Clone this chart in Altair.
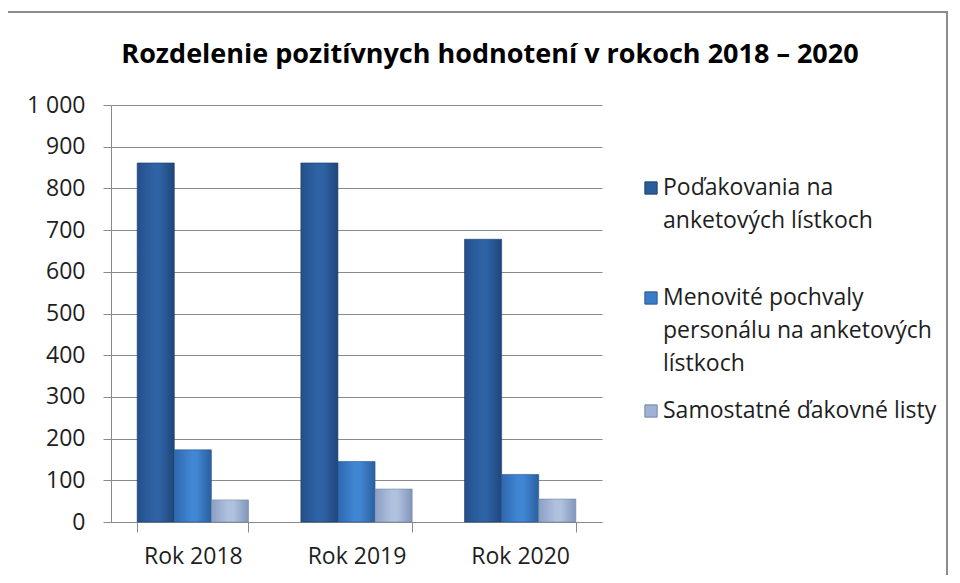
import altair as alt
import pandas as pd

# ---- data ----
years = ["Rok 2018", "Rok 2019", "Rok 2020"]
series = [
    "Poďakovania na anketových lístkoch",
    "Menovité pochvaly personálu na anketových lístkoch",
    "Samostatné ďakovné listy",
]
podakovania = [861, 861, 678]
menovite = [173, 145, 114]
listy = [53, 79, 55]
legend_lines = [
    ["Poďakovania na", "anketových lístkoch"],
    ["Menovité pochvaly", "personálu na anketových", "lístkoch"],
    ["Samostatné ďakovné listy"],
]
title_text = "Rozdelenie pozitívnych hodnotení v rokoch 2018 – 2020"

rows = []
for s, vals in zip(series, [podakovania, menovite, listy]):
    for y, v in zip(years, vals):
        rows.append({"year": y, "series": s, "value": v})
df = pd.DataFrame(rows)

# ---- styling / layout ----
W, H = 491, 417
FONT = "Open Sans"
TXT = "#1e1e1e"
GRID = "#8a8a8a"

def grad(edge, mid, edge2):
    return alt.Gradient(
        gradient="linear",
        stops=[
            alt.GradientStop(color=edge, offset=0),
            alt.GradientStop(color=mid, offset=0.45),
            alt.GradientStop(color=mid, offset=0.6),
            alt.GradientStop(color=edge2, offset=1),
        ],
        x1=0, x2=1, y1=0, y2=0,
    )

fills = [
    grad("#24508a", "#2f63a6", "#1f467a"),
    grad("#2e68b0", "#4186d3", "#2a5f9f"),
    grad("#8a9fc4", "#b0c1de", "#8196bb"),
]
solid = ["#2b5c9c", "#3a7cc8", "#9fb2d3"]
strokes = ["#1b3d69", "#24558f", "#6f84a8"]

x_enc = alt.X(
    "year:N", sort=years,
    scale=alt.Scale(paddingInner=0.32, paddingOuter=0.16),
    axis=alt.Axis(
        title=None, labelAngle=0, labelFont=FONT, labelFontSize=23,
        labelColor=TXT, tickBand="extent", tickSize=10, tickColor=GRID,
        domainColor=GRID, labelPadding=13, grid=False,
    ),
)
xo_enc = alt.XOffset(
    "series:N", sort=series,
    scale=alt.Scale(domain=series, paddingInner=0, paddingOuter=0),
)
y_enc = alt.Y(
    "value:Q",
    scale=alt.Scale(domain=[0, 1000], nice=False),
    axis=alt.Axis(
        title=None, values=list(range(0, 1001, 100)), format=",d",
        labelExpr="replace(datum.label, ',', ' ')",
        labelFont=FONT, labelFontSize=23, labelColor=TXT,
        tickSize=8, tickColor=GRID, domainColor=GRID,
        gridColor=GRID, gridWidth=1, labelPadding=18,
    ),
)

layers = []
for i, s in enumerate(series):
    layers.append(
        alt.Chart(df)
        .transform_filter(alt.datum.series == s)
        .mark_bar(color=fills[i], stroke=strokes[i], strokeWidth=0.6)
        .encode(x=x_enc, xOffset=xo_enc, y=y_enc)
    )

# chart title as a text mark
layers.append(
    alt.Chart(pd.DataFrame({"t": [title_text]}))
    .mark_text(font=FONT, fontSize=27, fontWeight="bold", color="#000",
               align="center", baseline="alphabetic")
    .encode(text="t:N", x=alt.value(379), y=alt.value(-42))
)

# legend (manual)
entry_y = [83, 193, 306]
LH = 33
for i, s in enumerate(series):
    layers.append(
        alt.Chart(pd.DataFrame({"s": [s]}))
        .mark_square(size=150, color=solid[i], stroke=strokes[i],
                     strokeWidth=1, opacity=1)
        .encode(x=alt.value(540), y=alt.value(entry_y[i]))
    )
    for j, line in enumerate(legend_lines[i]):
        layers.append(
            alt.Chart(pd.DataFrame({"t": [line]}))
            .mark_text(font=FONT, fontSize=23, color=TXT, align="left",
                       baseline="middle")
            .encode(text="t:N", x=alt.value(552), y=alt.value(entry_y[i] + j * LH))
        )

# outer frame of the chart
layers.append(
    alt.Chart(pd.DataFrame({"f": [0]}))
    .mark_rect(filled=False, stroke="#8c8c8c", strokeWidth=2)
    .encode(x=alt.value(-106), x2=alt.value(836),
            y=alt.value(-93), y2=alt.value(490))
)

chart = (
    alt.layer(*layers)
    .properties(
        width=W, height=H,
        autosize=alt.AutoSizeParams(type="none"),
        padding={"left": 103, "top": 97, "right": 350, "bottom": 53},
        background="white",
    )
    .configure_view(stroke="transparent")
)

chart.save("out.html", embed_options={"renderer": "svg", "actions": False})
